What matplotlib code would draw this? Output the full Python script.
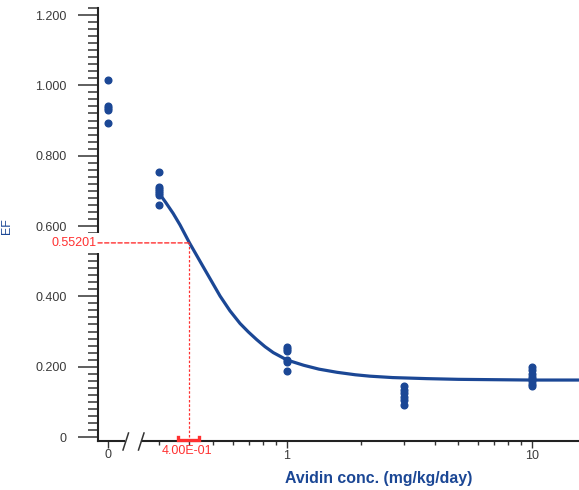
import matplotlib
matplotlib.use("Agg")
import matplotlib.pyplot as plt
from matplotlib.lines import Line2D
from matplotlib.patches import ConnectionPatch
from matplotlib.ticker import FixedLocator, MultipleLocator, NullFormatter

plt.rcParams['font.family'] = ['Liberation Sans', 'DejaVu Sans']

# ---- data ----
control_x = [0, 0, 0, 0, 0]
control_y = [1.015, 0.940, 0.935, 0.930, 0.893]

dose_x = [0.3] * 7 + [1] * 6 + [3] * 6 + [10] * 8
dose_y = [0.754, 0.712, 0.705, 0.700, 0.694, 0.688, 0.660,
          0.257, 0.250, 0.245, 0.218, 0.213, 0.188,
          0.145, 0.135, 0.125, 0.115, 0.105, 0.090,
          0.200, 0.190, 0.180, 0.170, 0.165, 0.160, 0.150, 0.145]

curve_x = [0.298, 0.32, 0.343, 0.366, 0.4, 0.421, 0.455, 0.493, 0.533, 0.585,
           0.643, 0.695, 0.752, 0.813, 0.879, 1.0, 1.17, 1.35, 1.6, 1.9,
           2.18, 2.7, 3.72, 5.0, 7.0, 10.0, 15.5]
curve_y = [0.697, 0.667, 0.636, 0.603, 0.552, 0.525, 0.484, 0.442, 0.401, 0.359,
           0.323, 0.299, 0.277, 0.257, 0.240, 0.219, 0.204, 0.193, 0.184, 0.177,
           0.173, 0.169, 0.166, 0.164, 0.163, 0.162, 0.162]

ec50 = 0.4
ec50_y = 0.55201
ci = [0.359, 0.437]
ec50_label = "4.00E-01"
ec50_y_label = "0.55201"

y_major = [0, 0.2, 0.4, 0.6, 0.8, 1.0, 1.2]
y_labels = ["0", "0.200", "0.400", "0.600", "0.800", "1.000", "1.200"]
x_major = [1, 10]
x_labels = ["1", "10"]
x_minor = [0.3, 0.4, 0.5, 0.6, 0.7, 0.8, 0.9, 2, 3, 4, 5, 6, 7, 8, 9]

BLUE = '#1b4795'
RED = '#ff3030'
TXT = '#3a3a3a'

W, H = 579, 490
fig = plt.figure(figsize=(W / 100, H / 100), dpi=100)

def fx(px):
    return px / W

def fy(py):
    return 1 - py / H

ybot, ytop = -0.0105, 1.22
ax_bottom = fy(440.7)
ax_h = fy(8) - ax_bottom

# zero segment (holds y axis)
ax0 = fig.add_axes([fx(98), ax_bottom, fx(124) - fx(98), ax_h])
ax0.set_xlim(-1, 1.6)
ax0.set_ylim(ybot, ytop)
for s in ['top', 'right']:
    ax0.spines[s].set_visible(False)
for s in ['left', 'bottom']:
    ax0.spines[s].set_linewidth(1.5)
    ax0.spines[s].set_color('#222222')
ax0.set_yticks(y_major)
ax0.set_yticklabels(y_labels)
ax0.yaxis.set_minor_locator(MultipleLocator(0.02))
ax0.tick_params(axis='y', which='major', length=14.4, width=1.1, pad=8,
                color='#333333', labelcolor=TXT, labelsize=9)
ax0.tick_params(axis='y', which='minor', length=7.2, width=1.1, color='#333333')
ax0.set_xticks([0])
ax0.set_xticklabels(["0"])
ax0.tick_params(axis='x', which='major', length=5, width=1.0, pad=1,
                color='#333333', labelcolor=TXT, labelsize=9)
ax0.plot(control_x, control_y, 'o', color=BLUE, ms=4.8, mec=BLUE, clip_on=False, zorder=5)

# log segment
ax = fig.add_axes([fx(142), ax_bottom, fx(579) - fx(142), ax_h])
ax.set_xscale('log')
ax.set_xlim(0.256, 15.55)
ax.set_ylim(ybot, ytop)
for s in ['top', 'right', 'left']:
    ax.spines[s].set_visible(False)
ax.spines['bottom'].set_linewidth(1.5)
ax.spines['bottom'].set_color('#222222')
ax.set_yticks([])
ax.xaxis.set_major_locator(FixedLocator(x_major))
ax.set_xticklabels(x_labels)
ax.xaxis.set_minor_locator(FixedLocator(x_minor))
ax.xaxis.set_minor_formatter(NullFormatter())
ax.tick_params(axis='x', which='major', length=5, width=1.0, pad=1.5,
               color='#333333', labelcolor=TXT, labelsize=9)
ax.tick_params(axis='x', which='minor', length=3, width=1.0, color='#333333')

ax.plot(curve_x, curve_y, '-', color=BLUE, lw=2.3, zorder=3,
        solid_capstyle='round', solid_joinstyle='round')
ax.plot(dose_x, dose_y, 'o', color=BLUE, ms=4.8, mec=BLUE, zorder=5, clip_on=False)

# EC50 annotation
ax.plot([ec50, ec50], [0, ec50_y], color=RED, lw=0.9, ls=(0, (2, 1.5)), zorder=4)
con = ConnectionPatch(xyA=(0, ec50_y), coordsA=ax0.get_yaxis_transform(),
                      xyB=(ec50, ec50_y), coordsB=ax.transData,
                      color=RED, lw=1.0, ls=(0, (3, 1.8)), zorder=4)
fig.add_artist(con)
ax.plot([ci[0], ci[0], ci[1], ci[1]], [0.0, -0.0075, -0.0075, 0.0],
        color=RED, lw=2.4, clip_on=False, zorder=6, solid_joinstyle='miter')
ax.text(0.39, -0.041, ec50_label, color=RED, fontsize=9, ha='center', va='center',
        clip_on=False)
ax0.text(-0.037, ec50_y, ec50_y_label, transform=ax0.get_yaxis_transform(),
         color=RED, fontsize=9, ha='right', va='center', zorder=10,
         bbox=dict(boxstyle='square,pad=0.3', fc='white', ec='none'))

# axis break marks
for x0 in (123, 138.5):
    fig.add_artist(Line2D([fx(x0), fx(x0 + 5.5)], [fy(450), fy(433)],
                          transform=fig.transFigure, color='#333333', lw=1.1))

# axis titles
fig.text(fx(379), fy(478), "Avidin conc. (mg/kg/day)", color=BLUE, fontsize=11.4,
         fontweight='bold', ha='center', va='center')
fig.text(fx(7), fy(226), "EF", color=BLUE, fontsize=9, rotation=90,
         ha='center', va='center')

fig.savefig("out.png", dpi=100)
